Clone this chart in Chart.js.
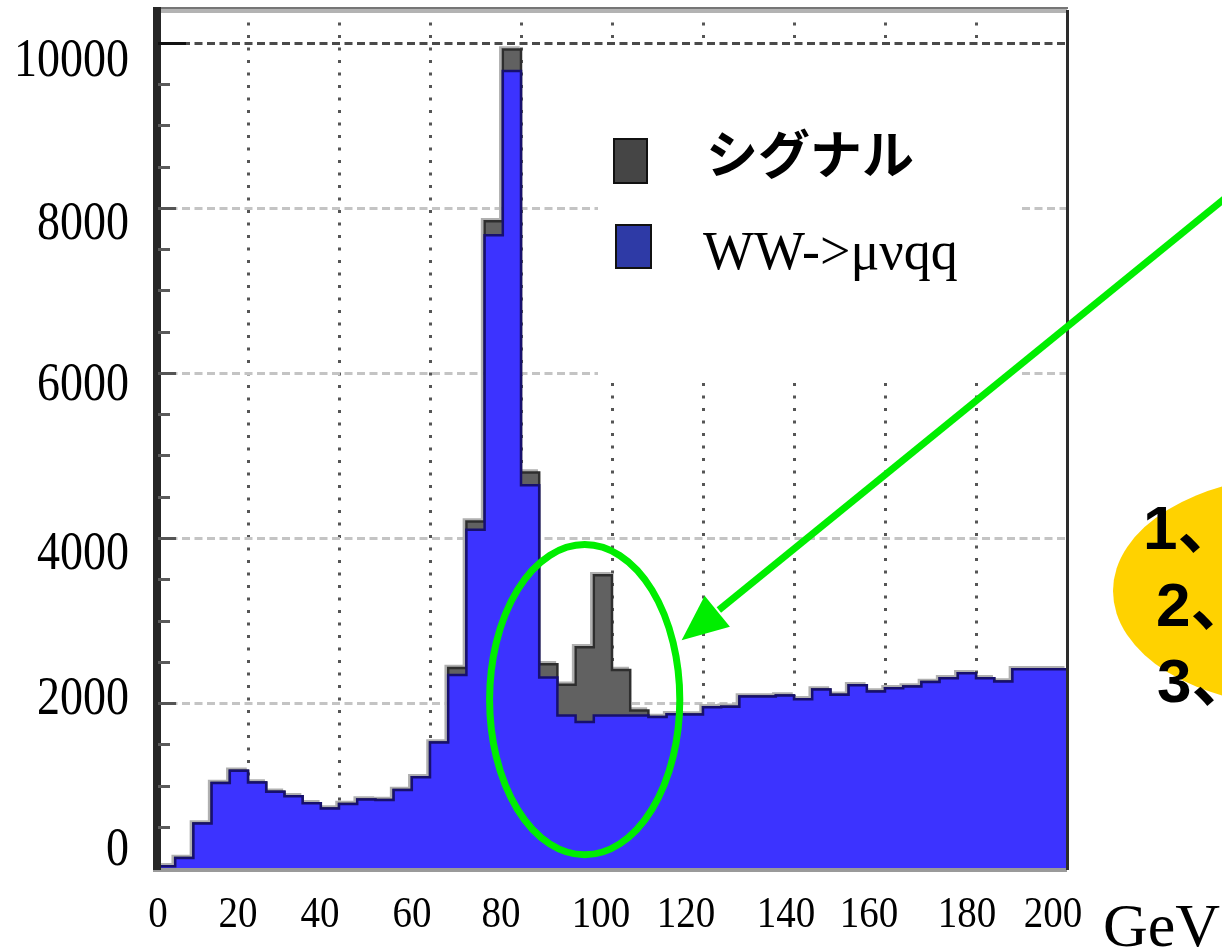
<!DOCTYPE html>
<html>
<head>
<meta charset="utf-8">
<script src="https://cdn.jsdelivr.net/npm/chart.js@4/dist/chart.umd.min.js"></script>
<style>
  html, body { margin: 0; padding: 0; background: #ffffff; }
  canvas { display: block; }
</style>
</head>
<body>
<canvas id="massChart" width="1222" height="950"></canvas>
<script>
// Histogram bin edges in GeV (4 GeV bins, 0-200)
const binEdges = [0, 4, 8, 12, 16, 20, 24, 28, 32, 36, 40, 44, 48, 52, 56, 60, 64, 68, 72, 76,
  80, 84, 88, 92, 96, 100, 104, 108, 112, 116, 120, 124, 128, 132, 136, 140, 144, 148, 152, 156,
  160, 164, 168, 172, 176, 180, 184, 188, 192, 196, 200];

// Background WW -> mu nu q q, entries per bin
const wwCounts = [20, 120, 540, 1030, 1180, 1035, 925, 870, 785, 720,
  775, 830, 825, 945, 1100, 1520, 2340, 4100, 7670, 9660,
  4640, 2310, 1850, 1770, 1850, 1850, 1850, 1830, 1865, 1860,
  1950, 1955, 2080, 2080, 2090, 2045, 2165, 2100, 2215, 2140,
  2180, 2200, 2255, 2300, 2360, 2300, 2260, 2410, 2410, 2410];

// Signal entries per bin, stacked on top of the background
const signalCounts = [0, 0, 0, 0, 0, 0, 0, 0, 0, 0,
  0, 0, 0, 0, 0, 0, 85, 100, 170, 260,
  155, 160, 370, 905, 1700, 550, 60, 0, 0, 0,
  0, 0, 0, 0, 0, 0, 0, 0, 0, 0,
  0, 0, 0, 0, 0, 0, 0, 0, 0, 0];

const xTickValues = [0, 20, 40, 60, 80, 100, 120, 140, 160, 180, 200];
const xTickLabels = ['0', '20', '40', '60', '80', '100', '120', '140', '160', '180', '200'];
const yTickValues = [0, 2000, 4000, 6000, 8000, 10000];
const yTickLabels = ['0', '2000', '4000', '6000', '8000', '10000'];

const seriesNames = ['シグナル', 'WW->μνqq'];
const axisUnit = 'GeV';
const noteLines = ['1、', '2、', '3、'];

// Label nudges (px) so the hand-placed slide labels sit where they were typed
const xLabelNudge = [1, -10, -19, -18, -20, -11, -17, -8, -16, -9, -14];
const yLabelNudge = [-17, -3, 17, 13, 17, 19];

// Highlight ellipse around the signal bump (data units)
const bumpCenter = { x: 94, y: 2040 };
const bumpRadius = { x: 20.9, y: 1880 };
const arrowTip = { x: 115.3, y: 2760 };

// Legend panel (px) – the grid is not drawn underneath it
const legendPanel = { left: 598, top: 47, right: 1022, bottom: 383 };

function stepPoints(counts) {
  return binEdges.map((e, i) => ({ x: e, y: counts[Math.min(i, counts.length - 1)] }));
}

function stretchedText(ctx, text, x, y, font, align, baseline, sy) {
  ctx.save();
  ctx.translate(x, y);
  ctx.scale(1, sy);
  ctx.font = font;
  ctx.textAlign = align;
  ctx.textBaseline = baseline;
  ctx.fillStyle = '#000';
  ctx.fillText(text, 0, 0);
  ctx.restore();
}

function segment(ctx, x1, y1, x2, y2) {
  ctx.beginPath();
  ctx.moveTo(x1, y1);
  ctx.lineTo(x2, y2);
  ctx.stroke();
}

const decorations = {
  id: 'decorations',
  beforeDatasetsDraw(chart) {
    const ctx = chart.ctx;
    const a = chart.chartArea;
    const xs = chart.scales.x;
    const ys = chart.scales.y;
    const p = legendPanel;
    ctx.save();
    // dotted vertical grid every 20 GeV
    ctx.setLineDash([3, 9.5]);
    ctx.lineWidth = 3;
    ctx.strokeStyle = '#555555';
    xTickValues.forEach((v) => {
      if (v <= 0 || v >= 200) return;
      const px = Math.round(xs.getPixelForValue(v)) + 0.5;
      if (px > p.left && px < p.right) {
        segment(ctx, px, a.top, px, p.top);
        segment(ctx, px, p.bottom, px, a.bottom);
      } else {
        segment(ctx, px, a.top, px, a.bottom);
      }
    });
    // dashed horizontal grid at every labelled value
    ctx.setLineDash([8, 4.5]);
    yTickValues.forEach((v) => {
      if (v <= 0) return;
      const py = Math.round(ys.getPixelForValue(v)) + 0.5;
      ctx.strokeStyle = v === yTickValues[yTickValues.length - 1] ? '#4a4a4a' : '#c4c4c4';
      if (py > p.top && py < p.bottom) {
        segment(ctx, a.left, py, p.left, py);
        segment(ctx, p.right, py, a.right, py);
      } else {
        segment(ctx, a.left, py, a.right, py);
      }
    });
    ctx.setLineDash([]);
    // soft grey halo along the upper-left of the stacked outline
    const pts = chart.getDatasetMeta(1).data;
    ctx.beginPath();
    ctx.rect(a.left, a.top, a.right - a.left, a.bottom - a.top);
    ctx.clip();
    ctx.strokeStyle = '#b0b0b0';
    ctx.lineWidth = 2.5;
    ctx.beginPath();
    pts.forEach((pt, i) => {
      const x = pt.x - 2.5, y = pt.y - 2;
      if (i === 0) ctx.moveTo(x, y);
      else { ctx.lineTo(x, pts[i - 1].y - 2); ctx.lineTo(x, y); }
    });
    ctx.stroke();
    ctx.restore();
  },
  afterDatasetsDraw(chart) {
    const ctx = chart.ctx;
    const a = chart.chartArea;
    const ys = chart.scales.y;
    ctx.save();
    // frame
    ctx.fillStyle = '#b3b3b3';
    ctx.fillRect(a.left, a.top - 1, a.right - a.left, 4);
    ctx.fillStyle = '#767676';
    ctx.fillRect(a.left - 2, a.top - 3, a.right - a.left + 3, 2);
    ctx.fillStyle = '#9a9a9a';
    ctx.fillRect(a.left - 4, a.bottom, a.right - a.left + 4, 4);
    ctx.fillStyle = '#2c2c2c';
    ctx.fillRect(a.right - 1, a.top, 3, a.bottom - a.top + 2);
    ctx.fillStyle = '#262626';
    ctx.fillRect(a.left - 4, a.top - 3, 8, a.bottom - a.top + 5);
    // inner tick marks on the y axis
    for (let v = 500; v <= 10000; v += 500) {
      const py = Math.round(ys.getPixelForValue(v));
      if (v % 2000 === 0) {
        ctx.fillStyle = v === 10000 ? '#111' : '#555';
        ctx.fillRect(a.left + 1, py - 1, v === 10000 ? 28 : 18, 3);
      } else {
        ctx.fillStyle = '#5a5a5a';
        ctx.fillRect(a.left + 1, py - 1, 12, 3);
      }
    }
    ctx.restore();
  },
  afterDraw(chart) {
    const ctx = chart.ctx;
    const xs = chart.scales.x;
    const ys = chart.scales.y;

    // tick labels
    xTickValues.forEach((v, i) => {
      stretchedText(ctx, xTickLabels[i], xs.getPixelForValue(v) + xLabelNudge[i], 927,
        '39px "Liberation Serif"', 'center', 'alphabetic', 1.13);
    });
    yTickValues.forEach((v, i) => {
      stretchedText(ctx, yTickLabels[i], 129, ys.getPixelForValue(v) + yLabelNudge[i],
        '46px "Liberation Serif"', 'right', 'middle', 1.2);
    });
    ctx.save();
    ctx.font = '62px "Liberation Serif"';
    ctx.fillStyle = '#000';
    ctx.textAlign = 'left';
    ctx.textBaseline = 'alphabetic';
    ctx.fillText(axisUnit, 1103, 946);
    ctx.restore();

    // legend
    ctx.save();
    ctx.lineWidth = 2;
    ctx.strokeStyle = '#111';
    ctx.fillStyle = '#454545';
    ctx.fillRect(614, 139, 33, 44);
    ctx.strokeRect(614, 139, 33, 44);
    ctx.fillStyle = '#2e3aa6';
    ctx.fillRect(616, 225, 35, 43);
    ctx.strokeRect(616, 225, 35, 43);
    ctx.fillStyle = '#000';
    ctx.textAlign = 'left';
    ctx.textBaseline = 'middle';
    ctx.font = 'bold 52px "Noto Sans CJK JP"';
    ctx.fillText(seriesNames[0], 706, 154);
    ctx.textBaseline = 'alphabetic';
    ctx.font = '54px "Liberation Serif"';
    ctx.fillText(seriesNames[1], 703, 269);
    ctx.restore();

    // yellow note bubble at the right edge
    ctx.save();
    ctx.fillStyle = '#ffd200';
    ctx.beginPath();
    ctx.ellipse(1300, 591, 187, 115, 0, 0, Math.PI * 2);
    ctx.fill();
    ctx.fillStyle = '#000';
    ctx.font = 'bold 62px "Liberation Sans", "Noto Sans CJK JP"';
    ctx.textAlign = 'left';
    ctx.textBaseline = 'alphabetic';
    ctx.fillText(noteLines[0], 1143, 549);
    ctx.fillText(noteLines[1], 1156, 626);
    ctx.fillText(noteLines[2], 1157, 702);
    ctx.restore();

    // green ellipse around the signal bump
    const cx = xs.getPixelForValue(bumpCenter.x);
    const cy = ys.getPixelForValue(bumpCenter.y);
    const rx = xs.getPixelForValue(bumpCenter.x + bumpRadius.x) - cx;
    const ry = cy - ys.getPixelForValue(bumpCenter.y + bumpRadius.y);
    ctx.save();
    ctx.strokeStyle = '#00ee00';
    ctx.lineWidth = 7;
    ctx.beginPath();
    ctx.ellipse(cx, cy, rx, ry, 0, 0, Math.PI * 2);
    ctx.stroke();

    // green arrow pointing at the bump
    const tx = xs.getPixelForValue(arrowTip.x);
    const ty = ys.getPixelForValue(arrowTip.y);
    const sx = 1240, sy = 186;
    const len = Math.hypot(sx - tx, sy - ty);
    const ux = (sx - tx) / len, uy = (sy - ty) / len;
    const headLen = 46, headHalf = 20;
    const bx = tx + ux * headLen, by = ty + uy * headLen;
    ctx.lineWidth = 7;
    ctx.lineCap = 'butt';
    ctx.beginPath();
    ctx.moveTo(sx, sy);
    ctx.lineTo(bx + ux * 2, by + uy * 2);
    ctx.stroke();
    ctx.fillStyle = '#00ee00';
    ctx.beginPath();
    ctx.moveTo(tx, ty);
    ctx.lineTo(bx - uy * headHalf, by + ux * headHalf);
    ctx.lineTo(bx + uy * headHalf, by - ux * headHalf);
    ctx.closePath();
    ctx.fill();
    ctx.restore();
  }
};

new Chart(document.getElementById('massChart'), {
  type: 'line',
  data: {
    datasets: [
      {
        label: seriesNames[1],
        data: stepPoints(wwCounts),
        stepped: 'before',
        fill: 'origin',
        backgroundColor: '#3c33ff',
        borderColor: '#17106e',
        borderWidth: 2.5,
        pointRadius: 0
      },
      {
        label: seriesNames[0],
        data: stepPoints(signalCounts),
        stepped: 'before',
        fill: '-1',
        backgroundColor: '#616161',
        borderColor: '#2e2e2e',
        borderWidth: 2.5,
        pointRadius: 0
      }
    ]
  },
  options: {
    responsive: false,
    animation: false,
    events: [],
    layout: { padding: { left: 157, right: 155, top: 10, bottom: 82 } },
    plugins: { legend: { display: false }, tooltip: { enabled: false } },
    scales: {
      x: { type: 'linear', display: false, min: 0, max: 200 },
      y: { type: 'linear', display: false, min: 0, max: 10400, stacked: true }
    }
  },
  plugins: [decorations]
});
</script>
</body>
</html>
